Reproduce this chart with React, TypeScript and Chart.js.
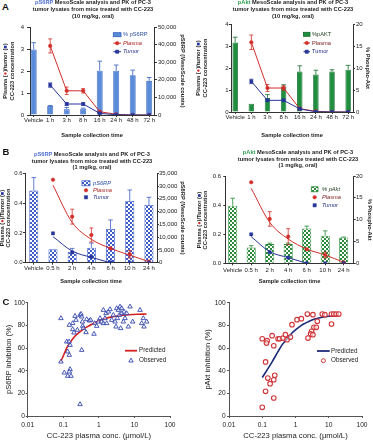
import React, { useEffect, useRef } from 'react';
import { Chart, registerables } from 'chart.js';

Chart.register(...registerables);

const FONT = '"Liberation Sans", Arial, Helvetica, sans-serif';
Chart.defaults.font.family = FONT;
Chart.defaults.color = '#222';

// ---------------- Panel A data (10 mg/kg) ----------------
const timesA = ['Vehicle', '1 h', '3 h', '8 h', '16 h', '24 h', '48 h', '72 h'];
const aS6Counts = [37200, 5100, 3200, 3600, 25100, 25100, 22600, 19400];
const aS6CountsErr = [3900, 300, 1100, 300, 5500, 3300, 2900, 1900];
const aS6Plasma = [null, 3.14, 1.1, 1.1, 0.15, 0.03, 0, 0];
const aS6PlasmaErr = [null, 0.32, 0.17, 0.1, 0.03, 0, 0, 0];
const aS6Tumor = [null, 1.36, 0.5, 0.5, 0.075, 0.01, 0, 0];
const aS6TumorErr = [null, 0.1, 0.06, 0.06, 0.02, 0, 0, 0];

const aAktPct = [15.8, 1.9, 3.2, 5.8, 9.2, 8.5, 9.2, 9.6];
const aAktPctErr = [1.2, 0, 0.75, 0.4, 1.3, 1.0, 0.4, 1.0];
const aAktPlasma = [null, 3.17, 1.09, 1.09, 0.15, 0.03, 0, 0];
const aAktPlasmaErr = [null, 0.33, 0.16, 0.1, 0.03, 0, 0, 0];
const aAktTumor = [null, 1.39, 0.53, 0.53, 0.14, 0.01, 0, 0];
const aAktTumorErr = [null, 0.1, 0.03, 0.05, 0.02, 0, 0, 0];

// ---------------- Panel B data (1 mg/kg) ----------------
const timesB = ['Vehicle', '0.5 h', '2 h', '4 h', '6 h', '10 h', '24 h'];
const bS6Counts = [28230, 5220, 4320, 5830, 13180, 24150, 22580];
const bS6CountsErr = [5080, 0, 1280, 1870, 3560, 4320, 3030];
const bS6PlasmaObs = [null, 0.557, 0.309, 0.186, 0.096, 0.056, 0.007];
const bS6PlasmaErr = [null, 0, 0.05, 0.047, 0, 0.025, 0];
const bS6PlasmaFit = [null, 0.52, 0.27, 0.157, 0.096, 0.051, 0.007];
const bS6TumorObs = [null, 0.197, 0.069, 0.04, 0.002, 0, 0];
const bS6TumorFit = [null, 0.175, 0.078, 0.036, 0, null, null];

const bAktPct = [13.2, 3.6, 4.4, 4.4, 8.0, 6.3, 5.9];
const bAktPctErr = [1.7, 0.45, 0.23, 0.23, 0.53, 1.13, 0.1];
const bAktPlasmaObs = [null, 0.557, 0.305, 0.183, 0.096, 0.057, 0.007];
const bAktPlasmaErr = [null, 0, 0.05, 0.055, 0, 0.02, 0];
const bAktPlasmaFit = [null, 0.515, 0.282, 0.167, 0.098, 0.057, 0.007];
const bAktTumorObs = [null, 0.199, 0.076, 0.039, 0, 0, 0];
const bAktTumorFit = [null, 0.183, 0.08, 0.039, 0, null, null];

// ---------------- Panel C data ----------------
const logTicks = [0.01, 0.1, 1, 10, 100];
const cS6ObsConc = [0.086, 0.086, 0.107, 0.125, 0.145, 0.155, 0.133, 0.148, 0.133, 0.155, 0.148, 0.165, 0.148, 0.184, 0.184, 0.2, 0.214, 0.228, 0.249, 0.296, 0.316, 0.33, 0.344, 0.352, 0.33, 0.296, 0.366, 0.436, 0.455, 0.541, 0.589, 0.731, 0.764, 0.869, 0.968, 1.08, 1.2, 1.34, 1.34, 1.49, 1.59, 1.66, 1.85, 2.06, 2.3, 2.55, 2.85, 3.04, 3.17, 3.31, 3.53, 3.77, 3.93, 4.11, 4.38, 4.38, 4.88, 5.1, 5.44, 6.06, 6.75, 7.52, 8.93, 14.4, 16.0, 17.8, 18.6, 22.1];
const cS6ObsInh = [86.2, 47.9, 38.2, 65.6, 65.6, 62.6, 56.8, 53.8, 35.3, 41.2, 39.1, 35.3, 80.3, 81.8, 76.5, 73.5, 88.2, 84.7, 75.9, 89.1, 90.0, 87.6, 83.2, 79.4, 58.2, 10.3, 77.4, 73.8, 85.3, 84.1, 84.7, 72.4, 81.8, 79.4, 83.2, 86.2, 83.2, 93.5, 81.8, 86.2, 90.6, 81.8, 92.0, 94.1, 84.7, 89.1, 83.2, 78.8, 95.0, 86.2, 93.5, 89.1, 96.5, 77.4, 95.0, 90.6, 83.2, 92.0, 86.2, 90.6, 78.8, 96.5, 83.2, 93.5, 81.8, 86.2, 78.8, 83.2];
const cS6PredConc = [0.085, 0.1, 0.125, 0.15, 0.2, 0.3, 0.4, 0.6, 0.8, 1, 1.5, 2.3, 4, 6.7, 12, 22];
const cS6PredInh = [48, 53, 60, 64, 69.5, 74.5, 77.5, 80.5, 82.5, 84, 86, 87.5, 88.7, 89.3, 89.8, 90];

const cAktObsConc = [0.1, 0.126, 0.222, 0.147, 0.172, 0.222, 0.238, 0.126, 0.1, 0.14, 0.134, 0.198, 0.222, 0.299, 0.33, 0.423, 0.499, 0.557, 0.703, 0.785, 1.11, 1.5, 2.27, 3.34, 4.53, 6.39, 7.64, 12.1, 14.2, 16.8, 20.1, 3.58, 4.22, 3.05, 2.85, 3.34, 2.37, 12.1];
const cAktObsInh = [7.7, 21.8, 15.9, 33.5, 28.5, 32, 35.9, 47.7, 68.2, 66.5, 64.4, 70.9, 62, 68.2, 68.2, 68.8, 71.8, 67.3, 69.7, 80.6, 85, 85.9, 90, 89.4, 83.6, 90, 89.4, 90, 90, 90, 90, 78.3, 78.3, 74.8, 72.4, 71.8, 68.8, 81.2];
const cAktPredConc = [0.1, 0.15, 0.2, 0.3, 0.4, 0.6, 0.8, 1, 1.5, 2, 3, 5, 10, 20];
const cAktPredInh = [34, 42, 48, 57, 63, 69, 73.5, 76, 80, 82, 84.5, 86.5, 88, 88.5];

// ---------------- colours ----------------
const RED = '#D22E2A';
const NAVY = '#27359A';
const S6_FILL = '#5A8CDA';
const S6_STROKE = '#2F5DB8';
const AKT_FILL = '#1F8E3E';
const AKT_STROKE = '#13692A';
const S6_CHECK = '#3D5CC8';
const AKT_CHECK = '#2A8A3A';
const S6_WORD = '#4F6FD6';
const AKT_WORD = '#2FA050';
const C_AXIS = '#555';

type Box = { x: number; y: number; w: number; h: number };

// ---------------- plugins ----------------
const errorBarPlugin = {
  id: 'errorBars',
  afterDatasetDraw(chart: any, args: any) {
    const ds = chart.data.datasets[args.index];
    const eb = ds.errorBar;
    if (!eb) return;
    const meta = args.meta;
    const yScale = chart.scales[meta.yAxisID];
    const ctx = chart.ctx;
    ctx.save();
    ctx.strokeStyle = eb.color;
    ctx.lineWidth = eb.width || 1;
    meta.data.forEach((el: any, j: number) => {
      const d = ds.data[j];
      if (!d || !d.e) return;
      const x = el.x;
      const yTop = yScale.getPixelForValue(d.y + d.e);
      const yBot = eb.upOnly ? yScale.getPixelForValue(d.y) : yScale.getPixelForValue(Math.max(0, d.y - d.e));
      ctx.beginPath();
      ctx.moveTo(x, yTop);
      ctx.lineTo(x, yBot);
      ctx.moveTo(x - eb.cap, yTop);
      ctx.lineTo(x + eb.cap, yTop);
      if (!eb.upOnly) {
        ctx.moveTo(x - eb.cap, yBot);
        ctx.lineTo(x + eb.cap, yBot);
      }
      ctx.stroke();
    });
    ctx.restore();
  },
};

function drawMarker(ctx: CanvasRenderingContext2D, kind: string, x: number, y: number, r: number, fill: string, stroke: string, lw: number) {
  ctx.beginPath();
  if (kind === 'circle') ctx.arc(x, y, r, 0, Math.PI * 2);
  else if (kind === 'rect') ctx.rect(x - r, y - r, 2 * r, 2 * r);
  else if (kind === 'triangle') {
    ctx.moveTo(x, y - r * 1.15);
    ctx.lineTo(x + r, y + r * 0.6);
    ctx.lineTo(x - r, y + r * 0.6);
    ctx.closePath();
  }
  ctx.fillStyle = fill;
  ctx.fill();
  ctx.strokeStyle = stroke;
  ctx.lineWidth = lw;
  ctx.stroke();
}

const legendPlugin = {
  id: 'panelLegend',
  afterDraw(chart: any) {
    const o = chart.options.plugins.panelLegend;
    if (!o || !o.items) return;
    const ctx = chart.ctx;
    ctx.save();
    o.items.forEach((it: any, k: number) => {
      const y = o.y + k * o.rowH;
      const x0 = o.x;
      const x1 = o.x + o.sampleW;
      const xm = (x0 + x1) / 2;
      if (it.kind === 'box') {
        ctx.fillStyle = it.fill;
        ctx.fillRect(x0, y - o.boxH / 2, o.sampleW, o.boxH);
        ctx.strokeStyle = it.stroke;
        ctx.lineWidth = 0.8;
        ctx.strokeRect(x0, y - o.boxH / 2, o.sampleW, o.boxH);
      }
      if (it.line) {
        ctx.strokeStyle = it.stroke;
        ctx.lineWidth = it.lineWidth || 1;
        ctx.beginPath();
        ctx.moveTo(x0, y);
        ctx.lineTo(x1, y);
        ctx.stroke();
      }
      if (it.marker) drawMarker(ctx, it.marker, xm, y, it.markerR || 1.7, it.markerFill || it.stroke, it.stroke, it.markerLW || 0.6);
      ctx.fillStyle = it.textColor || '#222';
      ctx.font = `${it.italic ? 'italic ' : ''}${o.bold ? 'bold ' : ''}${o.fontSize}px ${FONT}`;
      ctx.textBaseline = 'middle';
      ctx.textAlign = 'left';
      ctx.fillText(it.text, o.textX, y);
    });
    ctx.restore();
  },
};

// ---------------- helpers ----------------
function pts(vals: (number | null)[], errs?: (number | null)[]) {
  const out: any[] = [];
  vals.forEach((v, i) => {
    if (v === null || v === undefined) return;
    out.push({ x: i, y: v, e: errs ? errs[i] || 0 : 0 });
  });
  return out;
}

function checker(color: string) {
  const c = document.createElement('canvas');
  c.width = 4;
  c.height = 4;
  const g = c.getContext('2d')!;
  g.fillStyle = '#ffffff';
  g.fillRect(0, 0, 4, 4);
  g.fillStyle = color;
  g.fillRect(0, 0, 2, 2);
  g.fillRect(2, 2, 2, 2);
  return g.createPattern(c, 'repeat');
}

const tickFont = (size: number) => ({ size, family: FONT, lineHeight: 1.2 });

function abConfig(o: any) {
  const L = o.lay;
  return {
    type: 'bar',
    data: { datasets: o.datasets },
    options: {
      responsive: false,
      animation: false,
      devicePixelRatio: 1,
      layout: { padding: { top: L.padTop, left: 0, right: 0, bottom: 0 } },
      plugins: {
        legend: { display: false },
        tooltip: { enabled: false },
        title: { display: false },
        panelLegend: o.legend,
      },
      scales: {
        x: {
          type: 'linear',
          min: L.xMin,
          max: L.xMax,
          offset: false,
          afterFit: (s: any) => { s.height = L.bottomH; },
          afterBuildTicks: (s: any) => { s.ticks = o.labels.map((_: string, i: number) => ({ value: i })); },
          ticks: {
            callback: (v: number) => o.labels[Math.round(v)] ?? '',
            autoSkip: false,
            maxRotation: 0,
            minRotation: 0,
            padding: L.xTickPad,
            font: tickFont(6),
            color: '#222',
          },
          grid: { display: true, drawOnChartArea: false, drawTicks: true, tickLength: 2, color: '#333', offset: false },
          border: { display: true, color: '#333', width: 1 },
          title: { display: true, text: 'Sample collection time', padding: { top: 0, bottom: L.xTitlePad }, font: { size: 5.7, weight: 'bold', family: FONT, lineHeight: 1.2 }, color: '#222' },
        },
        y: {
          type: 'linear',
          position: 'left',
          min: 0,
          max: o.yMax,
          afterFit: (s: any) => { s.width = L.leftW; },
          ticks: { stepSize: o.yStep, padding: L.yTickPad, font: tickFont(6), color: '#222', callback: (v: number) => v.toFixed(o.yDec) },
          grid: { display: true, drawOnChartArea: false, drawTicks: true, tickLength: L.yTickLen, color: '#333' },
          border: { display: true, color: '#333', width: 1 },
        },
        y2: {
          type: 'linear',
          position: 'right',
          min: 0,
          max: o.y2Max,
          afterFit: (s: any) => { s.width = L.rightW; },
          ticks: {
            stepSize: o.y2Step,
            padding: L.y2TickPad,
            font: tickFont(6),
            color: '#222',
            callback: (v: number) => (o.y2Comma ? v.toLocaleString('en-US') : String(v)),
          },
          grid: { display: true, drawOnChartArea: false, drawTicks: true, tickLength: L.y2TickLen, color: '#333' },
          border: { display: true, color: '#333', width: 1 },
          title: { display: true, text: o.y2Title, padding: { top: L.y2TitlePad, bottom: 0 }, font: { size: 5.7, weight: 'bold', family: FONT, lineHeight: 1.2 }, color: '#222' },
        },
      },
    },
    plugins: [errorBarPlugin, legendPlugin],
  };
}

function barDs(vals: number[], errs: number[], fill: any, stroke: string, pct: number) {
  return {
    type: 'bar',
    data: pts(vals, errs),
    backgroundColor: fill,
    borderColor: stroke,
    borderWidth: 0.8,
    yAxisID: 'y2',
    xAxisID: 'x',
    barPercentage: pct,
    categoryPercentage: 1,
    order: 6,
    errorBar: { color: stroke, cap: 2.3, upOnly: true, width: 0.8 },
  };
}

function lineDs(vals: (number | null)[], errs: (number | null)[] | null, color: string, style: string | false, order: number, showLine: boolean, smooth = false) {
  return {
    type: 'line',
    data: pts(vals, errs || undefined),
    borderColor: color,
    backgroundColor: color,
    borderWidth: 1,
    showLine,
    pointStyle: style || 'circle',
    pointRadius: style ? (style === 'rect' ? 2.2 : 1.8) : 0,
    pointBackgroundColor: color,
    pointBorderColor: color,
    pointBorderWidth: 0.5,
    cubicInterpolationMode: smooth ? 'monotone' : 'default',
    tension: 0,
    yAxisID: 'y',
    xAxisID: 'x',
    order,
    errorBar: errs ? { color, cap: 2, width: 0.8 } : null,
  };
}

function cConfig(o: any) {
  const L = o.lay;
  const obs = o.obsX.map((x: number, i: number) => ({ x, y: o.obsY[i] }));
  const pred = o.predX.map((x: number, i: number) => ({ x, y: o.predY[i] }));
  return {
    type: 'scatter',
    data: {
      datasets: [
        {
          type: 'scatter',
          data: obs,
          pointStyle: o.obsStyle,
          pointRadius: o.obsR,
          borderColor: o.obsColor,
          pointBorderColor: o.obsColor,
          pointBackgroundColor: 'rgba(255,255,255,0.55)',
          pointBorderWidth: o.obsLW,
          order: 1,
        },
        {
          type: 'line',
          data: pred,
          borderColor: o.predColor,
          borderWidth: 1.6,
          pointRadius: 0,
          cubicInterpolationMode: 'monotone',
          showLine: true,
          order: 2,
        },
      ],
    },
    options: {
      responsive: false,
      animation: false,
      devicePixelRatio: 1,
      layout: { padding: { top: L.padTop, left: 0, right: L.padRight, bottom: 0 } },
      plugins: { legend: { display: false }, tooltip: { enabled: false }, panelLegend: o.legend },
      scales: {
        x: {
          type: 'logarithmic',
          min: 0.01,
          max: 100,
          afterFit: (s: any) => { s.height = L.bottomH; },
          afterBuildTicks: (s: any) => { s.ticks = logTicks.map((v) => ({ value: v })); },
          ticks: { callback: (v: number) => String(v), autoSkip: false, maxRotation: 0, padding: L.xTickPad, font: tickFont(6.6), color: '#222' },
          grid: { display: true, drawOnChartArea: false, drawTicks: true, tickLength: 2, color: C_AXIS },
          border: { display: true, color: C_AXIS, width: 1 },
          title: { display: true, text: 'CC-223 plasma conc. (\u03BCmol/L)', padding: { top: 0, bottom: L.xTitlePad }, font: { size: 7.7, family: FONT, lineHeight: 1 }, color: '#222' },
        },
        y: {
          type: 'linear',
          min: 0,
          max: 100,
          afterFit: (s: any) => { s.width = L.leftW; },
          ticks: { stepSize: 20, padding: L.yTickPad, font: tickFont(6.6), color: '#222' },
          grid: { display: true, drawOnChartArea: false, drawTicks: true, tickLength: 2, color: C_AXIS },
          border: { display: true, color: C_AXIS, width: 1 },
          title: { display: true, text: o.yTitle, padding: { top: L.yTitlePad, bottom: 0 }, font: { size: 7.5, family: FONT, lineHeight: 1.2 }, color: '#222' },
        },
      },
    },
    plugins: [legendPlugin],
  };
}

// ---------------- boxes ----------------
const BOX_AL: Box = { x: 0, y: 18, w: 186, h: 127 };
const BOX_AR: Box = { x: 186, y: 18, w: 187, h: 127 };
const BOX_BL: Box = { x: 0, y: 168, w: 186, h: 122 };
const BOX_BR: Box = { x: 186, y: 168, w: 187, h: 122 };
const BOX_CL: Box = { x: 0, y: 290, w: 186, h: 150 };
const BOX_CR: Box = { x: 186, y: 290, w: 187, h: 150 };

function legendAt(box: Box, px: number, py: number, textX: number, rowH: number, sampleW: number, fontSize: number, items: any[], boxH = 4) {
  return { x: px - box.x, y: py - box.y, textX: textX - box.x, rowH, sampleW, boxH, fontSize, items };
}

function makeAL() {
  return abConfig({
    labels: timesA,
    yMax: 4, yStep: 1, yDec: 0,
    y2Max: 50000, y2Step: 10000, y2Comma: true, y2Title: 'pS6RP (MesoScale counts)',
    lay: { leftW: 30, rightW: 32, bottomH: 30, padTop: 9, xMin: -0.224, xMax: 7.29, yTickLen: 3, yTickPad: 3, y2TickLen: 3, y2TickPad: 1, y2TitlePad: 0, xTickPad: 0, xTitlePad: 6.6 },
    datasets: [
      barDs(aS6Counts, aS6CountsErr, S6_FILL, S6_STROKE, 0.36),
      lineDs(aS6Plasma, aS6PlasmaErr, RED, 'circle', 2, true),
      lineDs(aS6Tumor, aS6TumorErr, NAVY, 'rect', 1, true),
    ],
    legend: legendAt(BOX_AL, 113.3, 34.7, 123, 8.5, 7.7, 5.7, [
      { kind: 'box', fill: S6_FILL, stroke: S6_STROKE, text: '% pS6RP', textColor: '#2F4FA8' },
      { line: true, stroke: RED, marker: 'circle', text: 'Plasma', italic: true, textColor: '#A82020' },
      { line: true, stroke: NAVY, marker: 'rect', markerR: 1.6, text: 'Tumor', italic: true, textColor: '#1F2C80' },
    ]),
  });
}

function makeAR() {
  return abConfig({
    labels: timesA,
    yMax: 4, yStep: 1, yDec: 0,
    y2Max: 20, y2Step: 5, y2Comma: false, y2Title: '% Phospho-Akt',
    lay: { leftW: 45, rightW: 20, bottomH: 33, padTop: 6, xMin: -0.26, xMax: 7.3, yTickLen: 2, yTickPad: 0.5, y2TickLen: 2, y2TickPad: 1, y2TitlePad: 1.6, xTickPad: 0, xTitlePad: 6.6 },
    datasets: [
      barDs(aAktPct, aAktPctErr, AKT_FILL, AKT_STROKE, 0.34),
      lineDs(aAktPlasma, aAktPlasmaErr, RED, 'circle', 2, true),
      lineDs(aAktTumor, aAktTumorErr, NAVY, 'rect', 1, true),
    ],
    legend: legendAt(BOX_AR, 303.5, 34.3, 312, 8.7, 6.5, 5.7, [
      { kind: 'box', fill: AKT_FILL, stroke: AKT_STROKE, text: '%pAKT', textColor: '#1A3A1A' },
      { line: true, stroke: RED, marker: 'circle', text: 'Plasma', textColor: '#7A1A1A' },
      { line: true, stroke: NAVY, marker: 'rect', markerR: 1.6, text: 'Tumor', textColor: '#1F2C80' },
    ]),
  });
}

function makeBL() {
  const pat = checker(S6_CHECK);
  return abConfig({
    labels: timesB,
    yMax: 0.6, yStep: 0.2, yDec: 1,
    y2Max: 35000, y2Step: 5000, y2Comma: true, y2Title: 'pS6RP (MesoScale counts)',
    lay: { leftW: 25, rightW: 29, bottomH: 27.3, padTop: 5.3, xMin: -0.458, xMax: 6.42, yTickLen: 2, yTickPad: 0.3, y2TickLen: 2, y2TickPad: 0, y2TitlePad: 0, xTickPad: 0, xTitlePad: 4.9 },
    datasets: [
      barDs(bS6Counts, bS6CountsErr, pat, S6_CHECK, 0.47),
      lineDs(bS6PlasmaFit, null, RED, false, 4, true, true),
      lineDs(bS6TumorFit, null, NAVY, false, 3, true, true),
      lineDs(bS6PlasmaObs, bS6PlasmaErr, RED, 'circle', 2, false),
      lineDs(bS6TumorObs, null, NAVY, 'rect', 1, false),
    ],
    legend: legendAt(BOX_BL, 82, 183.3, 93, 7, 8, 5.7, [
      { kind: 'box', fill: pat, stroke: S6_CHECK, text: 'pS6RP', italic: true, textColor: '#2F4FA8' },
      { marker: 'circle', stroke: RED, text: 'Plasma', italic: true, textColor: '#A82020' },
      { marker: 'rect', stroke: NAVY, markerR: 1.6, text: 'Tumor', italic: true, textColor: '#1F2C80' },
    ], 5),
  });
}

function makeBR() {
  const pat = checker(AKT_CHECK);
  return abConfig({
    labels: timesB,
    yMax: 0.6, yStep: 0.2, yDec: 1,
    y2Max: 20, y2Step: 5, y2Comma: false, y2Title: '% Phospho-Akt',
    lay: { leftW: 39.3, rightW: 19.3, bottomH: 26.7, padTop: 8, xMin: -0.4, xMax: 6.54, yTickLen: 2, yTickPad: 2.3, y2TickLen: 2, y2TickPad: 0.3, y2TitlePad: 0, xTickPad: 1.1, xTitlePad: 4.9 },
    datasets: [
      barDs(bAktPct, bAktPctErr, pat, AKT_CHECK, 0.49),
      lineDs(bAktPlasmaFit, null, RED, false, 4, true, true),
      lineDs(bAktTumorFit, null, NAVY, false, 3, true, true),
      lineDs(bAktPlasmaObs, bAktPlasmaErr, RED, 'circle', 2, false),
      lineDs(bAktTumorObs, null, NAVY, 'rect', 1, false),
    ],
    legend: legendAt(BOX_BR, 311.3, 189.3, 322, 8, 6.7, 5.7, [
      { kind: 'box', fill: pat, stroke: AKT_CHECK, text: '% pAkt', italic: true, textColor: '#1A3A1A' },
      { marker: 'circle', stroke: RED, text: 'Plasma', italic: true, textColor: '#7A1A1A' },
      { marker: 'rect', stroke: NAVY, markerR: 1.6, text: 'Tumor', italic: true, textColor: '#1F2C80' },
    ], 5),
  });
}

function makeCL() {
  return cConfig({
    obsX: cS6ObsConc, obsY: cS6ObsInh, predX: cS6PredConc, predY: cS6PredInh,
    obsStyle: 'triangle', obsR: 2.6, obsLW: 0.9, obsColor: '#3447AE', predColor: '#D42222',
    yTitle: 'pS6RP inhibition (%)',
    lay: { leftW: 27.7, padRight: 16, padTop: 12.7, bottomH: 24, yTickPad: 0.7, yTitlePad: 4.5, xTickPad: 3, xTitlePad: 0 },
    legend: legendAt(BOX_CL, 125, 350.7, 139, 10, 12, 6.3, [
      { line: true, stroke: '#D42222', lineWidth: 1.8, text: 'Predicted' },
      { marker: 'triangle', stroke: '#3447AE', markerFill: '#fff', markerR: 2.2, markerLW: 0.9, text: 'Observed' },
    ]),
  });
}

function makeCR() {
  return cConfig({
    obsX: cAktObsConc, obsY: cAktObsInh, predX: cAktPredConc, predY: cAktPredInh,
    obsStyle: 'circle', obsR: 2.3, obsLW: 1.1, obsColor: '#D0363A', predColor: '#1C2A78',
    yTitle: 'pAkt inhibition (%)',
    lay: { leftW: 43, padRight: 11, padTop: 12.7, bottomH: 24, yTickPad: 1.3, yTitlePad: 17.5, xTickPad: 3, xTitlePad: 0 },
    legend: legendAt(BOX_CR, 317, 351, 331, 9.7, 12.7, 6.3, [
      { line: true, stroke: '#1C2A78', lineWidth: 1.8, text: 'Predicted' },
      { marker: 'circle', stroke: '#D0363A', markerFill: '#fff', markerR: 2, markerLW: 1, text: 'Observed' },
    ]),
  });
}

// ---------------- components ----------------
function ChartBox({ box, make }: { box: Box; make: () => any }) {
  const ref = useRef<HTMLCanvasElement>(null);
  useEffect(() => {
    const chart = new Chart(ref.current as HTMLCanvasElement, make() as any);
    return () => chart.destroy();
  }, []);
  return (
    <canvas
      ref={ref}
      width={box.w}
      height={box.h}
      style={{ position: 'absolute', left: box.x, top: box.y, width: box.w, height: box.h }}
    />
  );
}

function PanelTitle({ cx, top, lh, word, color, lines }: { cx: number; top: number; lh: number; word: string; color: string; lines: string[] }) {
  return (
    <div
      style={{
        position: 'absolute', left: cx - 100, top, width: 200, textAlign: 'center',
        fontSize: 5.7, fontWeight: 'bold', lineHeight: `${lh}px`, color: '#222', whiteSpace: 'nowrap',
      }}
    >
      <div><span style={{ color }}>{word}</span> {lines[0]}</div>
      <div>{lines[1]}</div>
      <div>{lines[2]}</div>
    </div>
  );
}

function RotTitle({ cx, cy, lh, tumorWord }: { cx: number; cy: number; lh: number; tumorWord: string }) {
  return (
    <div
      style={{
        position: 'absolute', left: cx, top: cy, transform: 'translate(-50%, -50%) rotate(-90deg)',
        whiteSpace: 'nowrap', textAlign: 'center', fontSize: 5.7, fontWeight: 'bold', lineHeight: `${lh}px`, color: '#222',
      }}
    >
      <div>
        Plasma (<span style={{ color: RED }}>{'\u25CF'}</span>)/{tumorWord} (<span style={{ color: NAVY }}>{'\u25A0'}</span>)
      </div>
      <div>CC-223 concentration</div>
    </div>
  );
}

function Letter({ x, y, t }: { x: number; y: number; t: string }) {
  return (
    <div style={{ position: 'absolute', left: x, top: y, fontSize: 9.5, fontWeight: 'bold', lineHeight: '10px', color: '#111' }}>{t}</div>
  );
}

export default function App() {
  return (
    <div
      style={{
        position: 'absolute', left: 0, top: 0, width: 373, height: 440, overflow: 'hidden',
        background: '#ffffff', fontFamily: FONT,
      }}
    >
      <ChartBox box={BOX_AL} make={makeAL} />
      <ChartBox box={BOX_AR} make={makeAR} />
      <ChartBox box={BOX_BL} make={makeBL} />
      <ChartBox box={BOX_BR} make={makeBR} />
      <ChartBox box={BOX_CL} make={makeCL} />
      <ChartBox box={BOX_CR} make={makeCR} />

      <Letter x={2} y={2} t="A" />
      <Letter x={2.5} y={147} t="B" />
      <Letter x={2.5} y={297} t="C" />

      <PanelTitle cx={93} top={-0.8} lh={6.7} word="pS6RP" color={S6_WORD} lines={['MesoScale analysis and PK of PC-3', 'tumor lysates from mice treated with CC-223', '(10 mg/kg, oral)']} />
      <PanelTitle cx={293} top={-0.8} lh={6.7} word="pAkt" color={AKT_WORD} lines={['MesoScale analysis and PK of PC-3', 'tumor lysates from mice treated with CC-223', '(10 mg/kg, oral)']} />
      <PanelTitle cx={92} top={151} lh={6.5} word="pS6RP" color={S6_WORD} lines={['MesoScale analysis and PK of PC-3', 'tumor lysates from mice treated with CC-223', '(1 mg/kg, oral)']} />
      <PanelTitle cx={298} top={149} lh={6.7} word="pAkt" color={AKT_WORD} lines={['MesoScale analysis and PK of PC-3', 'tumor lysates from mice treated with CC-223', '(1 mg/kg, oral)']} />

      <RotTitle cx={8.5} cy={71} lh={7} tumorWord="tumor" />
      <RotTitle cx={201.5} cy={68} lh={7} tumorWord="tumor" />
      <RotTitle cx={5.8} cy={218} lh={5.8} tumorWord="Tumor" />
      <RotTitle cx={202.5} cy={219.7} lh={5.8} tumorWord="Tumor" />
    </div>
  );
}
